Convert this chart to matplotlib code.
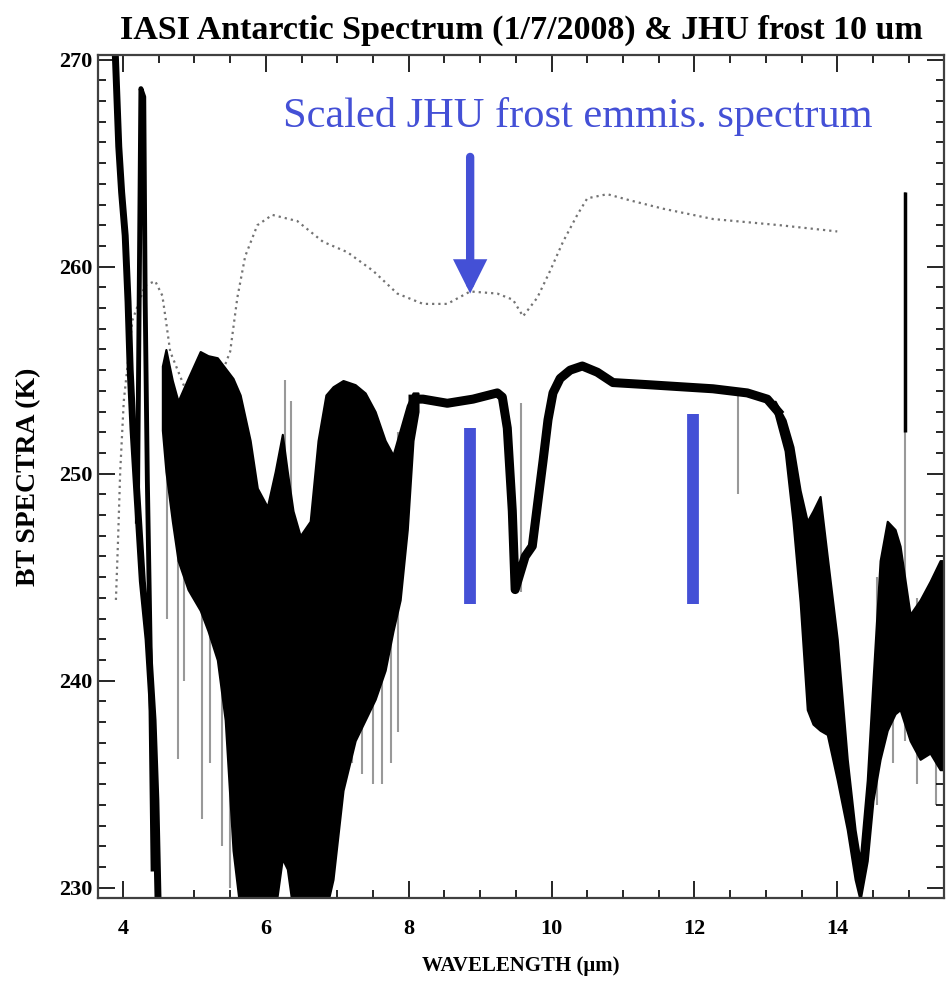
import matplotlib
matplotlib.use("Agg")
import matplotlib.pyplot as plt
from matplotlib.ticker import MultipleLocator

# scaled JHU frost emissivity spectrum (dotted)
frost_wl = [3.90, 3.93, 3.96, 4.01, 4.13, 4.31, 4.45, 4.55, 4.60, 4.66, 4.94, 5.29,
            5.50, 5.60, 5.71, 5.88, 6.09, 6.44, 6.80, 7.14, 7.50, 7.84, 8.20, 8.54,
            8.86, 9.24, 9.46, 9.60, 9.80, 9.98, 10.16, 10.36, 10.50, 10.78, 11.10,
            11.56, 12.26, 13.20, 14.00]
frost_bt = [243.9, 246.8, 250.1, 253.5, 257.4, 259.1, 259.3, 258.6, 257.4, 255.9, 253.5, 254.0,
            255.9, 258.5, 260.5, 262.0, 262.5, 262.2, 261.2, 260.7, 259.8, 258.7, 258.2, 258.2,
            258.8, 258.7, 258.4, 257.6, 258.5, 259.8, 261.2, 262.5, 263.3, 263.5, 263.2,
            262.8, 262.3, 262.0, 261.7]

# IASI spectrum, 4.3 um band edge (two strands)
edge_wl = [3.89, 3.94, 3.98, 4.03, 4.07, 4.10, 4.14, 4.20, 4.27, 4.35, 4.42, 4.46, 4.49]
edge_bt = [270.4, 265.8, 263.6, 261.5, 258.3, 255.0, 252.1, 248.7, 244.8, 242.0, 238.1, 234.2, 229.4]
spike_wl = [4.20, 4.25, 4.29, 4.31, 4.34, 4.38, 4.42]
spike_bt = [247.7, 268.6, 268.2, 258.3, 249.7, 241.5, 230.9]

# IASI spectrum, water vapour band (envelope)
h2o_wl = [4.55, 4.60, 4.69, 4.77, 4.91, 5.08, 5.19, 5.32, 5.43, 5.54, 5.64, 5.78, 5.88,
          6.02, 6.13, 6.23, 6.30, 6.38, 6.48, 6.62, 6.73, 6.84, 6.94, 7.08, 7.25, 7.39,
          7.53, 7.67, 7.78, 7.88, 7.98, 8.06, 8.13]
h2o_top = [255.2, 256.0, 254.5, 253.5, 254.6, 255.9, 255.7, 255.6, 255.1, 254.6, 253.8, 251.6, 249.3,
           248.4, 250.1, 251.9, 250.1, 248.2, 247.0, 247.7, 251.6, 253.8, 254.2, 254.5, 254.3, 253.9,
           253.0, 251.6, 250.9, 252.1, 253.3, 253.9, 253.9]
h2o_bot = [252.1, 250.1, 247.7, 245.8, 244.4, 243.4, 242.4, 241.0, 238.1, 231.8, 228.9, 228.9, 228.9,
           228.9, 228.9, 231.4, 230.9, 228.9, 228.9, 228.9, 228.9, 228.9, 230.4, 234.7, 237.1, 238.1,
           239.1, 240.5, 242.4, 243.9, 247.3, 251.6, 253.0]

# IASI spectrum, atmospheric window incl. ozone band
win_wl = [8.06, 8.20, 8.54, 8.90, 9.24, 9.31, 9.38, 9.45, 9.49, 9.63, 9.73, 9.81, 9.88,
          9.95, 10.02, 10.12, 10.26, 10.43, 10.64, 10.86, 11.34, 11.80, 12.26, 12.74,
          13.02, 13.17]
win_bt = [253.6, 253.6, 253.4, 253.6, 253.9, 253.7, 252.2, 248.2, 244.4, 246.0, 246.5, 248.7, 250.6,
          252.6, 253.9, 254.6, 255.0, 255.2, 254.9, 254.4, 254.3, 254.2, 254.1, 253.9,
          253.6, 253.0]

# IASI spectrum, 15 um CO2 band (envelope)
co2_wl = [13.13, 13.27, 13.38, 13.48, 13.58, 13.66, 13.76, 13.86, 14.00, 14.14, 14.25, 14.32,
          14.42, 14.50, 14.60, 14.70, 14.81, 14.88, 15.02, 15.16, 15.30, 15.44, 15.53]
co2_top = [253.5, 252.6, 251.3, 249.2, 247.7, 248.2, 248.9, 246.0, 242.0, 236.2, 232.8, 231.3,
           235.2, 240.0, 245.8, 247.7, 247.3, 246.5, 243.2, 243.9, 244.8, 245.8, 245.8]
co2_bot = [252.9, 251.1, 247.7, 243.8, 238.6, 237.9, 237.6, 237.4, 235.2, 232.8, 230.4, 229.4,
           231.3, 234.2, 236.2, 237.6, 238.4, 238.6, 237.1, 236.2, 236.5, 235.7, 235.7]

# single lines standing out of the spectrum
gray_wl = [4.62, 4.77, 4.86, 5.11, 5.22, 5.39, 5.50, 6.27, 6.35, 7.12, 7.20, 7.35, 7.50, 7.62,
           7.75, 7.85, 9.57, 12.61, 14.55, 14.78, 14.95, 15.12, 15.38]
gray_lo = [243.0, 236.2, 240.0, 233.3, 236.0, 232.0, 230.0, 245.0, 245.0, 236.5, 236.0, 235.5, 235.0,
           235.0, 236.0, 237.5, 244.3, 249.0, 234.0, 236.0, 237.1, 235.0, 234.0]
gray_hi = [255.0, 253.5, 254.0, 255.0, 255.0, 255.0, 254.0, 254.5, 253.5, 254.3, 254.3, 254.0, 253.0,
           252.0, 251.0, 252.0, 253.4, 254.1, 245.0, 247.0, 263.6, 244.0, 245.0]
dark_wl = [14.95]
dark_lo = [252.0]
dark_hi = [263.6]

# blue annotation bars
bar_wl = [8.86, 11.98]
bar_lo = [243.7, 243.7]
bar_hi = [252.2, 252.9]

blue = '#4450D6'
serif = 'Liberation Serif'

fig = plt.figure(figsize=(9.52, 9.82), dpi=100)
ax = fig.add_axes([0.103, 0.0855, 0.889, 0.858])

ax.plot(frost_wl, frost_bt, color='0.45', lw=1.6, ls=(0, (1, 1.8)), zorder=1)
ax.vlines(gray_wl, gray_lo, gray_hi, color='0.6', lw=1.5, zorder=1.5)
ax.plot(edge_wl, edge_bt, color='k', lw=5, zorder=2)
ax.plot(spike_wl, spike_bt, color='k', lw=3.5, zorder=2)
ax.fill_between(h2o_wl, h2o_bot, h2o_top, color='k', lw=1.5, edgecolor='k', zorder=2)
ax.plot(win_wl, win_bt, color='k', lw=6.5, solid_joinstyle='round', zorder=2)
ax.fill_between(co2_wl, co2_bot, co2_top, color='k', lw=1.5, edgecolor='k', zorder=2)
ax.vlines(dark_wl, dark_lo, dark_hi, color='k', lw=2.5, zorder=2)

# annotation
ax.text(10.37, 267.25, 'Scaled JHU frost emmis. spectrum', color=blue,
        family=serif, fontsize=30.5, ha='center', va='center', zorder=5)
ax.annotate('', xy=(8.86, 258.7), xytext=(8.86, 265.3),
            arrowprops=dict(arrowstyle='-|>,head_width=0.25,head_length=0.5',
                            color=blue, lw=6, mutation_scale=30, shrinkA=0, shrinkB=0,
                            joinstyle='miter'),
            zorder=5)
ax.vlines(bar_wl, bar_lo, bar_hi, color=blue, lw=8.5, capstyle='butt', zorder=5)

ax.set_xlim(3.65, 15.5)
ax.set_ylim(229.5, 270.2)
ax.xaxis.set_major_locator(MultipleLocator(2))
ax.xaxis.set_minor_locator(MultipleLocator(0.5))
ax.yaxis.set_major_locator(MultipleLocator(10))
ax.yaxis.set_minor_locator(MultipleLocator(1))
ax.tick_params(which='both', direction='in', top=True, right=True, width=1.2, labelsize=16)
ax.tick_params(axis='x', pad=15)
ax.tick_params(axis='y', pad=4)
ax.tick_params(which='major', length=12)
ax.tick_params(which='minor', length=6)
for lab in ax.get_xticklabels() + ax.get_yticklabels():
    lab.set_family(serif)
    lab.set_fontweight('bold')
for s in ax.spines.values():
    s.set_linewidth(1.6)
    s.set_color('0.25')

ax.set_title('IASI Antarctic Spectrum (1/7/2008) & JHU frost 10 um',
             family=serif, fontweight='bold', fontsize=24.5, pad=12)
ax.set_ylabel('BT SPECTRA (K)', family=serif, fontweight='bold', fontsize=20, labelpad=13)
ax.set_xlabel('WAVELENGTH (\u03bcm)', family=serif, fontweight='bold', fontsize=15, labelpad=12)

fig.savefig('out.png', dpi=100)
